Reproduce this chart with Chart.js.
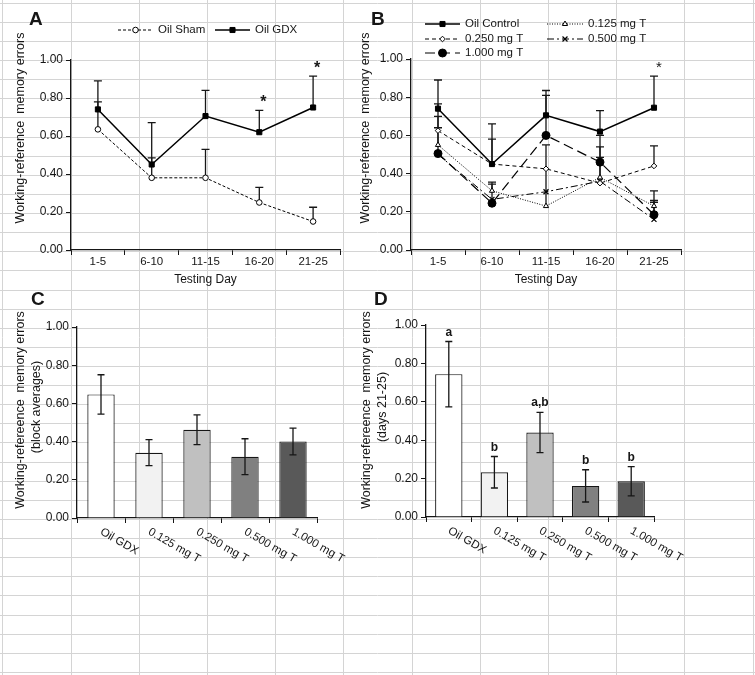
<!DOCTYPE html>
<html>
<head>
<meta charset="utf-8">
<script src="https://cdn.jsdelivr.net/npm/chart.js@4.4.0/dist/chart.umd.min.js"></script>
<style>
  body { margin: 0; background: #fff; }
  #page { position: relative; width: 755px; height: 675px; overflow: hidden; }
  #page canvas { position: absolute; left: 0; top: 0; }
</style>
</head>
<body>
<div id="page">
  <canvas id="sheet" width="755" height="675"></canvas>
  <canvas id="chartA" width="755" height="675"></canvas>
  <canvas id="chartB" width="755" height="675"></canvas>
  <canvas id="chartC" width="755" height="675"></canvas>
  <canvas id="chartD" width="755" height="675"></canvas>
</div>
<script>
// Testing-day blocks (A, B) and treatment groups (C, D)
const days = ['1-5', '6-10', '11-15', '16-20', '21-25'];
const groups = ['Oil GDX', '0.125 mg T', '0.250 mg T', '0.500 mg T', '1.000 mg T'];

// Panel A - means and upper SEM
const shamMean = [0.635, 0.38, 0.38, 0.25, 0.15];
const shamSem  = [0.145, 0.105, 0.15, 0.08, 0.075];
const gdxMean  = [0.74, 0.45, 0.705, 0.62, 0.75];
const gdxSem   = [0.15, 0.22, 0.135, 0.115, 0.165];
const starsA   = ['', '', '', '*', '*'];

// Panel B
const ctrlMean  = [0.74, 0.45, 0.705, 0.62, 0.745];
const ctrlSem   = [0.15, 0.21, 0.13, 0.11, 0.165];
const t125Mean  = [0.55, 0.31, 0.23, 0.38, 0.23];
const t125Sem   = [0.09, 0.045, 0.32, 0.16, 0.08];
const t250Mean  = [0.625, 0.45, 0.425, 0.35, 0.44];
const t250Sem   = [0.14, 0.13, null, null, 0.105];
const t500Mean  = [0.50, 0.265, 0.305, 0.36, 0.16];
const t500Sem   = [null, 0.08, null, 0.125, 0.09];
const t1000Mean = [0.505, 0.245, 0.60, 0.46, 0.185];
const t1000Sem  = [0.195, null, 0.21, 0.14, 0.075];
const starsB    = ['', '', '', '', '*'];

// Panel C - block averages
const blockMean = [0.647, 0.342, 0.462, 0.321, 0.401];
const blockSem  = [0.103, 0.068, 0.078, 0.094, 0.07];

// Panel D - days 21-25
const lateMean = [0.744, 0.233, 0.44, 0.162, 0.186];
const lateSem  = [0.17, 0.082, 0.105, 0.084, 0.076];
const lettersD = ['a', 'b', 'a,b', 'b', 'b'];

const barColors = ['#ffffff', '#f2f2f2', '#c0c0c0', '#808080', '#595959'];

const W = 755, H = 675;
const Y_W = 50;   // width reserved for the y axis box
const FONT = "'Liberation Sans', Arial, sans-serif";
const INK = '#161616';

// spreadsheet grid behind the figure
(function drawSheet() {
    const g = document.getElementById('sheet').getContext('2d');
    g.strokeStyle = '#d4d4d4';
    g.lineWidth = 1;
    g.beginPath();
    for (let k = 0; k < 12; k++) {
        const x = Math.round(2.4 + 68.2 * k) + 0.5;
        g.moveTo(x, 0); g.lineTo(x, H);
    }
    for (let k = 0; k < 36; k++) {
        const y = Math.round(2.7 + 19.12 * k) + 0.5;
        g.moveTo(0, y); g.lineTo(W, y);
    }
    g.stroke();
})();

function drawLegendItem(ctx, ds, it) {
    ctx.save();
    ctx.strokeStyle = ds.borderColor;
    ctx.lineWidth = ds.borderWidth;
    ctx.setLineDash(ds.borderDash || []);
    ctx.beginPath();
    ctx.moveTo(it.x0, it.y); ctx.lineTo(it.x1, it.y);
    ctx.stroke();
    ctx.setLineDash([]);
    ctx.fillStyle = ds.pointBackgroundColor;
    ctx.strokeStyle = ds.pointBorderColor;
    ctx.lineWidth = ds.pointBorderWidth;
    Chart.helpers.drawPoint(ctx, {
        pointStyle: ds.pointStyle, radius: ds.pointRadius,
        borderWidth: ds.pointBorderWidth, rotation: 0
    }, (it.x0 + it.x1) / 2, it.y);
    ctx.fillStyle = INK;
    ctx.font = '11.5px ' + FONT;
    ctx.textAlign = 'left';
    ctx.textBaseline = 'middle';
    ctx.fillText(ds.label, it.x1 + 5, it.y);
    ctx.restore();
}

function drawErrors(chart, o) {
    const ctx = chart.ctx, ys = chart.scales.y;
    ctx.save();
    ctx.strokeStyle = INK;
    ctx.lineWidth = 1.3;
    (o.errors || []).forEach((sem, di) => {
        const ds = chart.data.datasets[di];
        const pts = chart.getDatasetMeta(di).data;
        sem.forEach((s, i) => {
            if (s == null) return;
            const v = ds.data[i], px = pts[i].x;
            const top = ys.getPixelForValue(v + s);
            const bot = ys.getPixelForValue(o.twoSided ? v - s : v);
            ctx.beginPath();
            ctx.moveTo(px, bot); ctx.lineTo(px, top);
            ctx.moveTo(px - o.cap, top); ctx.lineTo(px + o.cap, top);
            if (o.twoSided) { ctx.moveTo(px - o.cap, bot); ctx.lineTo(px + o.cap, bot); }
            ctx.stroke();
        });
    });
    ctx.restore();
}

const decor = {
    id: 'decor',
    beforeDatasetsDraw(chart, args, o) {
        if (chart.config.type !== 'bar') drawErrors(chart, o);
    },
    afterDatasetsDraw(chart, args, o) {
        if (chart.config.type === 'bar') drawErrors(chart, o);
    },
    afterDraw(chart, args, o) {
        const ctx = chart.ctx, xs = chart.scales.x, ys = chart.scales.y;
        const area = chart.chartArea;
        ctx.save();
        ctx.fillStyle = INK;

        // panel letter
        ctx.font = 'bold 19px ' + FONT;
        ctx.textAlign = 'left';
        ctx.textBaseline = 'alphabetic';
        ctx.fillText(o.letter.text, o.letter.x, o.letter.y);

        // y-axis title (rotated)
        ctx.font = '12.5px ' + FONT;
        ctx.textAlign = 'center';
        ctx.textBaseline = 'middle';
        o.yTitle.forEach(t => {
            ctx.save();
            ctx.translate(t.x, t.y);
            ctx.rotate(-Math.PI / 2);
            ctx.fillText(t.text, 0, 0);
            ctx.restore();
        });

        // category labels
        ctx.font = '11.5px ' + FONT;
        chart.data.labels.forEach((lab, i) => {
            const px = xs.getPixelForValue(i);
            if (o.slant) {
                ctx.save();
                ctx.translate(px, area.bottom + 13);
                ctx.rotate(Math.PI / 6);
                ctx.textAlign = 'left';
                ctx.textBaseline = 'middle';
                ctx.fillText(lab, 0, 0);
                ctx.restore();
            } else {
                ctx.textAlign = 'center';
                ctx.textBaseline = 'middle';
                ctx.fillText(lab, px, area.bottom + 12);
            }
        });

        // x-axis title
        if (o.xTitle) {
            ctx.font = '12px ' + FONT;
            ctx.textAlign = 'center';
            ctx.textBaseline = 'middle';
            ctx.fillText(o.xTitle, (area.left + area.right) / 2, area.bottom + 30);
        }

        // legend
        (o.legend || []).forEach(it => drawLegendItem(ctx, chart.data.datasets[it.ds], it));

        // significance marks above the error bars
        if (o.marks) {
            const m = o.marks;
            const ds = chart.data.datasets[m.ds];
            const pts = chart.getDatasetMeta(m.ds).data;
            const sem = o.errors[m.ds];
            ctx.font = m.font;
            ctx.textAlign = 'center';
            ctx.textBaseline = 'alphabetic';
            m.texts.forEach((t, i) => {
                if (!t) return;
                const top = ys.getPixelForValue(ds.data[i] + (sem[i] || 0));
                ctx.fillText(t, pts[i].x + m.dx, top - m.lift);
            });
        }
        ctx.restore();
    }
};

function yAxis() {
    return {
        min: 0, max: 1,
        afterFit: s => { s.width = Y_W; },
        ticks: {
            stepSize: 0.2, padding: 3, color: INK,
            font: { family: FONT, size: 12 },
            callback: v => v.toFixed(2)
        },
        grid: { drawOnChartArea: false, drawTicks: true, tickLength: 5, color: INK, lineWidth: 1 },
        border: { display: true, color: INK, width: 1.3 }
    };
}

function xAxis() {
    return {
        type: 'category', offset: true,
        afterFit: s => { s.height = 10; },
        ticks: { display: false },
        grid: { offset: true, drawOnChartArea: false, drawTicks: true, tickLength: 5, color: INK, lineWidth: 1 },
        border: { display: true, color: INK, width: 1.3 }
    };
}

function makeChart(id, type, labels, datasets, area, decorOpts) {
    return new Chart(document.getElementById(id), {
        type: type,
        data: { labels: labels, datasets: datasets },
        options: {
            responsive: false,
            animation: false,
            devicePixelRatio: 1,
            events: [],
            layout: { padding: { left: area.l - Y_W, right: W - area.r, top: area.t, bottom: H - area.b - 10 } },
            scales: { x: xAxis(), y: yAxis() },
            plugins: { legend: { display: false }, tooltip: { enabled: false }, decor: decorOpts }
        },
        plugins: [decor]
    });
}

// line styles
const solidSquare = { borderWidth: 1.5, pointStyle: 'rect', pointRadius: 3.6, pointBackgroundColor: '#000', pointBorderWidth: 1 };
function lineDs(label, data, style) {
    return Object.assign({ label: label, data: data, borderColor: '#000', pointBorderColor: '#000', tension: 0, fill: false }, style);
}

// Panel A
makeChart('chartA', 'line', days, [
    lineDs('Oil Sham', shamMean, { borderWidth: 1, borderDash: [3, 2], pointStyle: 'circle', pointRadius: 2.8, pointBackgroundColor: '#fff', pointBorderWidth: 1 }),
    lineDs('Oil GDX', gdxMean, solidSquare)
], { l: 71, r: 340, t: 60, b: 250 }, {
    letter: { text: 'A', x: 29, y: 25 },
    yTitle: [{ text: 'Working-reference  memory errors', x: 21, y: 128 }],
    xTitle: 'Testing Day',
    errors: [shamSem, gdxSem], cap: 4, twoSided: false,
    legend: [{ ds: 0, x0: 118, x1: 153, y: 30 }, { ds: 1, x0: 215, x1: 250, y: 30 }],
    marks: { ds: 1, texts: starsA, font: 'bold 16px ' + FONT, dx: 4, lift: 3 }
});

// Panel B
makeChart('chartB', 'line', days, [
    lineDs('Oil Control', ctrlMean, solidSquare),
    lineDs('0.125 mg T', t125Mean, { borderWidth: 1, borderDash: [1, 1.5], pointStyle: 'triangle', pointRadius: 3, pointBackgroundColor: '#fff', pointBorderWidth: 1 }),
    lineDs('0.250 mg T', t250Mean, { borderWidth: 1, borderDash: [4, 3], pointStyle: 'rectRot', pointRadius: 2.8, pointBackgroundColor: '#fff', pointBorderWidth: 1 }),
    lineDs('0.500 mg T', t500Mean, { borderWidth: 1, borderDash: [7, 3, 2, 3], pointStyle: 'crossRot', pointRadius: 3.5, pointBackgroundColor: '#000', pointBorderWidth: 1.2 }),
    lineDs('1.000 mg T', t1000Mean, { borderWidth: 1.2, borderDash: [10, 5], pointStyle: 'circle', pointRadius: 4, pointBackgroundColor: '#000', pointBorderWidth: 1 })
], { l: 411, r: 681, t: 59, b: 250 }, {
    letter: { text: 'B', x: 371, y: 25 },
    yTitle: [{ text: 'Working-reference  memory errors', x: 366, y: 128 }],
    xTitle: 'Testing Day',
    errors: [ctrlSem, t125Sem, t250Sem, t500Sem, t1000Sem], cap: 4, twoSided: false,
    legend: [
        { ds: 0, x0: 425, x1: 460, y: 24 }, { ds: 1, x0: 547, x1: 583, y: 24 },
        { ds: 2, x0: 425, x1: 460, y: 39 }, { ds: 3, x0: 547, x1: 583, y: 39 },
        { ds: 4, x0: 425, x1: 460, y: 53 }
    ],
    marks: { ds: 0, texts: starsB, font: '15px ' + FONT, dx: 5, lift: 4 }
});

// Panel C
makeChart('chartC', 'bar', groups, [{
    label: 'Block averages', data: blockMean, backgroundColor: barColors,
    borderColor: INK, borderWidth: 1.2, barPercentage: 0.57, categoryPercentage: 1
}], { l: 77, r: 317, t: 327, b: 518 }, {
    letter: { text: 'C', x: 31, y: 305 },
    yTitle: [{ text: 'Working-refereence  memory errors', x: 21, y: 410 },
             { text: '(block averages)', x: 37, y: 407 }],
    slant: true,
    errors: [blockSem], cap: 3.5, twoSided: true
});

// Panel D
makeChart('chartD', 'bar', groups, [{
    label: 'Days 21-25', data: lateMean, backgroundColor: barColors,
    borderColor: INK, borderWidth: 1.2, barPercentage: 0.6, categoryPercentage: 1
}], { l: 426, r: 654, t: 325, b: 517 }, {
    letter: { text: 'D', x: 374, y: 305 },
    yTitle: [{ text: 'Working-refereence  memory errors', x: 367, y: 410 },
             { text: '(days 21-25)', x: 383, y: 407 }],
    slant: true,
    errors: [lateSem], cap: 3.5, twoSided: true,
    marks: { ds: 0, texts: lettersD, font: 'bold 12px ' + FONT, dx: 0, lift: 6 }
});
</script>
</body>
</html>
